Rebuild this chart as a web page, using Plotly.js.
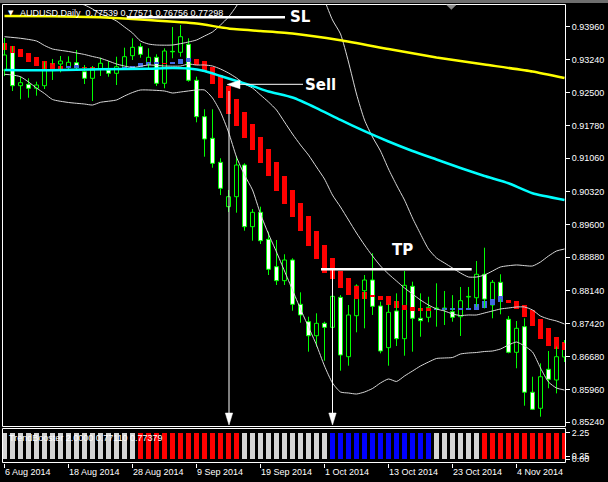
<!DOCTYPE html>
<html><head><meta charset="utf-8">
<script src="https://cdn.plot.ly/plotly-3.0.1.min.js"></script>
<style>html,body{margin:0;padding:0;background:#000;}#chart{width:608px;height:482px;}</style>
</head><body><div id="chart"></div>
<script>
const dates = ['2014-08-06','2014-08-07','2014-08-08','2014-08-11','2014-08-12','2014-08-13','2014-08-14','2014-08-15','2014-08-18','2014-08-19','2014-08-20','2014-08-21','2014-08-22','2014-08-25','2014-08-26','2014-08-27','2014-08-28','2014-08-29',
'2014-09-01','2014-09-02','2014-09-03','2014-09-04','2014-09-05','2014-09-08','2014-09-09','2014-09-10','2014-09-11','2014-09-12','2014-09-15','2014-09-16','2014-09-17','2014-09-18','2014-09-19','2014-09-22','2014-09-23','2014-09-24','2014-09-25','2014-09-26','2014-09-29','2014-09-30',
'2014-10-01','2014-10-02','2014-10-03','2014-10-06','2014-10-07','2014-10-08','2014-10-09','2014-10-10','2014-10-13','2014-10-14','2014-10-15','2014-10-16','2014-10-17','2014-10-20','2014-10-21','2014-10-22','2014-10-23','2014-10-24','2014-10-27','2014-10-28','2014-10-29','2014-10-30','2014-10-31',
'2014-11-03','2014-11-04','2014-11-05','2014-11-06','2014-11-07','2014-11-10','2014-11-11','2014-11-12'];

const open  = [0.93006,0.93396,0.92660,0.92691,0.92603,0.92660,0.93006,0.93138,0.93057,0.93167,0.92969,0.92823,0.93028,0.93006,0.92933,0.93043,0.93321,0.93520,0.93154,0.93286,0.92713,0.93418,0.93396,0.93573,0.92779,0.91977,0.91500,0.90971,0.89993,0.90213,0.90912,0.89552,0.89869,0.89274,0.88670,0.88362,0.88818,0.87841,0.87458,0.87149,0.87422,0.87334,0.87995,0.86686,0.87590,0.88140,0.88377,0.87804,0.86885,0.87694,0.87083,0.88238,0.87533,0.87555,0.87747,0.87760,0.87678,0.87568,0.88002,0.87986,0.88503,0.87826,0.88326,0.87511,0.86783,0.87348,0.85903,0.85549,0.86409,0.86173,0.86680];
const high  = [0.93711,0.93535,0.92858,0.92823,0.92748,0.93189,0.93249,0.93315,0.93308,0.93447,0.93116,0.93094,0.93277,0.93204,0.93299,0.93498,0.93705,0.93595,0.93484,0.93352,0.93484,0.93954,0.93998,0.93705,0.92858,0.92140,0.92140,0.91060,0.90361,0.91110,0.90949,0.89942,0.89993,0.89442,0.89259,0.88944,0.88855,0.88105,0.87568,0.87643,0.87458,0.88112,0.88044,0.87826,0.88282,0.88487,0.88966,0.87899,0.87841,0.88083,0.88575,0.88340,0.88083,0.88008,0.88304,0.88135,0.88044,0.88223,0.88223,0.88796,0.89089,0.88377,0.88503,0.87583,0.87473,0.87533,0.86245,0.86540,0.86812,0.86907,0.87054];
const low   = [0.92874,0.92543,0.92360,0.92395,0.92440,0.92587,0.92786,0.92955,0.92984,0.93006,0.92697,0.92323,0.92874,0.92858,0.92675,0.93006,0.93226,0.93277,0.93006,0.92653,0.92603,0.93264,0.93299,0.92748,0.91853,0.91095,0.90852,0.90249,0.89876,0.89861,0.89464,0.89243,0.89171,0.88487,0.88267,0.88267,0.87700,0.87436,0.86797,0.86907,0.86598,0.87231,0.86378,0.86488,0.87224,0.87312,0.87606,0.86761,0.86488,0.86922,0.86708,0.86797,0.87127,0.87445,0.87348,0.87385,0.87458,0.87143,0.87753,0.87788,0.87753,0.87533,0.87621,0.86761,0.86431,0.85606,0.85511,0.85364,0.85990,0.85878,0.86569];
const close = [0.93337,0.92660,0.92726,0.92603,0.92675,0.93006,0.93132,0.93204,0.93176,0.93057,0.92823,0.93006,0.93154,0.92933,0.93079,0.93299,0.93506,0.93352,0.93286,0.92713,0.93425,0.93407,0.93740,0.92779,0.91977,0.91485,0.90949,0.90398,0.90213,0.90912,0.89552,0.89869,0.89243,0.88613,0.88362,0.88818,0.87841,0.87606,0.87149,0.87422,0.87334,0.88017,0.86724,0.87606,0.88245,0.88377,0.87797,0.86812,0.87665,0.87083,0.88260,0.87533,0.87480,0.87775,0.87760,0.87747,0.87555,0.87921,0.88015,0.88503,0.87957,0.88326,0.87957,0.86783,0.87312,0.85903,0.85527,0.86245,0.86188,0.86686,0.86988];

const haOpen  = [0.93601,0.93535,0.93469,0.93387,0.93299,0.93204,0.93154,0.93094,0.93057,0.93061,0.93079,0.93079,0.93050,0.93050,0.93050,0.93028,0.93039,0.93072,0.93110,0.93149,0.93167,0.93149,0.93149,0.93189,0.93244,0.93204,0.93079,0.92896,0.92660,0.92367,0.92087,0.91816,0.91536,0.91265,0.90978,0.90669,0.90361,0.90081,0.89788,0.89464,0.89149,0.88862,0.88575,0.88414,0.88245,0.88118,0.88044,0.88024,0.88017,0.87914,0.87826,0.87777,0.87760,0.87753,0.87705,0.87705,0.87705,0.87722,0.87716,0.87720,0.87760,0.87826,0.87888,0.87936,0.87914,0.87826,0.87716,0.87511,0.87319,0.87127,0.87004];
const haClose = [0.93447,0.93387,0.93299,0.93189,0.93101,0.93021,0.93021,0.93035,0.93105,0.93116,0.93043,0.93006,0.93006,0.93006,0.93021,0.93072,0.93101,0.93160,0.93189,0.93189,0.93138,0.93189,0.93249,0.93271,0.93127,0.92951,0.92704,0.92389,0.92036,0.91772,0.91514,0.91243,0.90963,0.90676,0.90339,0.90059,0.89772,0.89464,0.89126,0.88833,0.88538,0.88393,0.88207,0.88055,0.87957,0.87957,0.88002,0.87936,0.87815,0.87749,0.87720,0.87698,0.87698,0.87700,0.87738,0.87753,0.87749,0.87753,0.87760,0.87848,0.87914,0.87957,0.88024,0.87877,0.87738,0.87561,0.87363,0.87070,0.86933,0.86852,0.86834];

// TrendBooster state per bar: n = neutral, d = down, u = up
const boosterState = ['n','n','n','n','n','n','n','n','n','n','n','n','n','n','n','n','n',
'd','d','d','d','d','d','d','d','d','d','d','d','d',
'n','n','n','n','n','n','n','n','n','n','n',
'u','u','u','u','u','u','u','u','u','u','u','u','u',
'n','n','n','n','n','n',
'd','d','d','d','d','d','d','d','d','d','d'];
const boosterLevel = 2.25;

const yellowMABar = [0,6,12,18,24,28,32,36,42,48,54,60,66,70];
const yellowMA    = [0.94196,0.94190,0.94168,0.94108,0.94031,0.93921,0.93866,0.93811,0.93661,0.93469,0.93282,0.93127,0.92973,0.92830];
const cyanMABar = [0,6,12,18,21,23,25,27,29,31,33,36,39,42,45,48,51,54,57,60,63,66,70];
const cyanMA    = [0.93006,0.92999,0.93021,0.93035,0.93050,0.93039,0.92984,0.92874,0.92764,0.92653,0.92532,0.92400,0.92168,0.91904,0.91661,0.91430,0.91221,0.91033,0.90846,0.90669,0.90509,0.90288,0.90140];

const bbUpperBar = [0,2,4,6,8,10,11,12,13,14,15,16,17,18,19,21,23,24,25,26,27,28,29,30,32,35,38,40,41,42,43,44,45,46,47,48,49,50,51,52,53,54,55,56,57,58,59,60,61,62,64,66,67,68,69,70];
const bbUpper    = [0.94571,0.94549,0.94659,0.94593,0.94527,0.94439,0.94351,0.94240,0.94174,0.94086,0.93954,0.93822,0.93645,0.93579,0.93557,0.93557,0.93623,0.93667,0.93755,0.93844,0.93998,0.94174,0.94417,0.94725,0.95321,0.95872,0.95541,0.94549,0.94108,0.93800,0.93182,0.92477,0.91904,0.91529,0.91221,0.90824,0.90471,0.90140,0.89744,0.89391,0.89060,0.88862,0.88752,0.88642,0.88531,0.88443,0.88443,0.88487,0.88575,0.88664,0.88708,0.88686,0.88774,0.88906,0.89016,0.89060];
const bbMidBar = [0,2,4,5,6,8,10,11,12,13,14,16,18,20,22,23,24,25,26,27,28,29,30,31,32,33,34,35,36,37,38,39,40,41,42,43,44,45,46,47,48,49,50,51,52,53,54,55,56,57,58,59,60,61,62,63,64,65,66,67,68,69,70];
const bbMid    = [0.93740,0.93705,0.93645,0.93546,0.93469,0.93414,0.93348,0.93304,0.93264,0.93204,0.93138,0.93061,0.93116,0.93094,0.93094,0.93138,0.93116,0.93116,0.93094,0.93028,0.92940,0.92830,0.92697,0.92609,0.92455,0.92301,0.92124,0.91860,0.91595,0.91353,0.91132,0.90868,0.90603,0.90249,0.89986,0.89700,0.89413,0.89149,0.88906,0.88686,0.88509,0.88355,0.88201,0.88068,0.87936,0.87826,0.87738,0.87694,0.87628,0.87594,0.87606,0.87606,0.87650,0.87694,0.87738,0.87760,0.87782,0.87782,0.87716,0.87583,0.87517,0.87473,0.87407];
const bbLowerBar = [0,1,2,3,4,5,6,8,10,11,12,14,15,16,17,20,21,22,24,25,26,27,28,29,30,31,32,33,34,35,36,37,38,39,40,41,42,43,44,45,46,47,48,49,50,51,52,53,54,55,56,57,58,59,60,61,62,63,64,65,66,67,68,69,70];
const bbLower    = [0.92911,0.92896,0.92858,0.92742,0.92609,0.92488,0.92356,0.92290,0.92256,0.92234,0.92294,0.92345,0.92433,0.92510,0.92565,0.92543,0.92499,0.92521,0.92565,0.92565,0.92389,0.92080,0.91639,0.91088,0.90692,0.90361,0.89832,0.89391,0.88994,0.88575,0.88157,0.87738,0.87341,0.86944,0.86481,0.86107,0.85908,0.85886,0.85864,0.85908,0.85985,0.86107,0.86195,0.86140,0.86261,0.86371,0.86481,0.86569,0.86647,0.86658,0.86669,0.86746,0.86768,0.86779,0.86801,0.86812,0.86856,0.86944,0.87010,0.86922,0.86790,0.86437,0.86129,0.85996,0.85952];

const priceTicks = [0.93960,0.93240,0.92500,0.91780,0.91060,0.90320,0.89600,0.88880,0.88140,0.87420,0.86680,0.85960,0.85240];
const dateTickBars = [0,8,16,24,32,40,48,56,64];
const dateTickLabels = ['6 Aug 2014','18 Aug 2014','28 Aug 2014','9 Sep 2014','19 Sep 2014','1 Oct 2014','13 Oct 2014','23 Oct 2014','4 Nov 2014'];
const boosterTicks = [0, 0.25, 2.25];
const boosterTickText = ['0.00','0.25','2.25'];

// ---------- build traces ----------
const idx = dates.map((d, i) => i);
const bodyBase = idx.map(i => Math.min(open[i], close[i]));
const bodyLen  = idx.map(i => Math.max(Math.abs(close[i] - open[i]), 0.00003));
const bodyFill = idx.map(i => close[i] >= open[i] ? '#000000' : '#ffffff');
const wx = [], wy = [];
idx.forEach(i => {
  const top = Math.max(open[i], close[i]), bot = Math.min(open[i], close[i]);
  wx.push(i, i, null, i, i, null);
  wy.push(high[i], top, null, bot, low[i], null);
});
const haBase = idx.map(i => Math.min(haOpen[i], haClose[i]));
const haLen  = idx.map(i => Math.max(Math.abs(haClose[i] - haOpen[i]), 0.00004));
const haCol  = idx.map(i => haClose[i] < haOpen[i] ? '#ff0000' : '#4169e1');
const boosterColMap = {n: '#d4d4d4', d: '#ff0000', u: '#0000ff'};

const pick = (bars) => bars.map(b => b);
const traces = [
  {type:'bar', x: idx, base: bodyBase, y: bodyLen, width: 0.5,
   marker: {color: bodyFill, line: {color: '#00ff00', width: 1}}, hoverinfo: 'skip'},
  {type:'bar', x: idx, base: haBase, y: haLen, width: 0.625,
   marker: {color: haCol, line: {width: 0}}, hoverinfo: 'skip'},
  {type:'scatter', mode:'lines', x: wx, y: wy, line: {color: '#00ff00', width: 1}, connectgaps: false, hoverinfo: 'skip'},
  {type:'scatter', mode:'lines', x: bbUpperBar, y: bbUpper, line: {color: '#d8d8d8', width: 1, shape: 'spline', smoothing: 0.6}, hoverinfo: 'skip'},
  {type:'scatter', mode:'lines', x: bbMidBar, y: bbMid, line: {color: '#d8d8d8', width: 1, shape: 'spline', smoothing: 0.6}, hoverinfo: 'skip'},
  {type:'scatter', mode:'lines', x: bbLowerBar, y: bbLower, line: {color: '#d8d8d8', width: 1, shape: 'spline', smoothing: 0.6}, hoverinfo: 'skip'},
  {type:'scatter', mode:'lines', x: yellowMABar, y: yellowMA, line: {color: '#ffff00', width: 2.5, shape: 'spline', smoothing: 0.5}, hoverinfo: 'skip'},
  {type:'scatter', mode:'lines', x: cyanMABar, y: cyanMA, line: {color: '#00ffff', width: 2.5, shape: 'spline', smoothing: 0.5}, hoverinfo: 'skip'},
  {type:'bar', x: idx, y: boosterState.map(() => boosterLevel), yaxis: 'y2', width: 0.625,
   marker: {color: boosterState.map(s => boosterColMap[s]), line: {width: 0}}, hoverinfo: 'skip'}
];

// ---------- layout ----------
const W = 608, H = 482;
const px = x => x / W, py = y => 1 - y / H;
const tri = (pts) => 'M ' + pts.map(p => px(p[0]) + ',' + py(p[1])).join(' L ') + ' Z';
const pline = (x0, y0, x1, y1, w) => ({type:'line', xref:'paper', yref:'paper', x0: px(x0), y0: py(y0), x1: px(x1), y1: py(y1), line: {color:'#ffffff', width: w}});
const ppath = (pts, col) => ({type:'path', xref:'paper', yref:'paper', path: tri(pts), fillcolor: col, line: {color: col, width: 0.5}});

const smallFont = {family: 'Liberation Sans, Arial, sans-serif', size: 9, color: '#ffffff'};
const bigFont = {family: 'DejaVu Sans, Verdana, sans-serif', size: 15, color: '#ffffff', weight: 'bold'};

const layout = {
  width: W, height: H,
  margin: {l: 0, r: 0, t: 0, b: 0, pad: 0},
  paper_bgcolor: '#000000', plot_bgcolor: '#000000',
  showlegend: false, barmode: 'overlay', bargap: 0,
  font: smallFont,
  xaxis: {domain: [px(3), px(565)], range: [-0.1875, 70.0625], anchor: 'y2',
    tickmode: 'array', tickvals: dateTickBars, ticktext: dateTickLabels,
    ticks: 'outside', ticklen: 4, tickcolor: '#ffffff', tickwidth: 1,
    ticklabelposition: 'outside right', tickfont: smallFont,
    showgrid: false, zeroline: false, showline: false, fixedrange: true},
  yaxis: {domain: [py(426), py(4.5)], range: [0.851587, 0.944498], side: 'right', anchor: 'x',
    tickmode: 'array', tickvals: priceTicks, ticktext: priceTicks.map(v => v.toFixed(5)),
    ticks: 'outside', ticklen: 4, tickcolor: '#ffffff', tickfont: smallFont,
    showgrid: false, zeroline: false, showline: false, fixedrange: true},
  yaxis2: {domain: [py(462.7), py(428.7)], range: [-0.316, 2.59], side: 'right', anchor: 'x',
    tickmode: 'array', tickvals: boosterTicks, ticktext: boosterTickText,
    ticks: 'outside', ticklen: 4, tickcolor: '#ffffff', tickfont: smallFont,
    showgrid: false, zeroline: false, showline: false, fixedrange: true},
  shapes: [
    {type:'rect', xref:'paper', yref:'paper', x0: 0, x1: 1, y0: py(3), y1: 1, fillcolor: '#6e6e6e', line: {width: 0}},
    {type:'rect', xref:'paper', yref:'paper', x0: px(2.5), x1: px(565.5), y0: py(426.5), y1: py(4.5), line: {color: '#ffffff', width: 1}},
    {type:'rect', xref:'paper', yref:'paper', x0: px(2.5), x1: px(565.5), y0: py(462.5), y1: py(428.5), line: {color: '#ffffff', width: 1}},
    // chart shift marker
    ppath([[446.7, 5], [456, 5], [451.3, 9.5]], '#8a8a8a'),
    // SL and TP levels
    pline(126.7, 17.2, 285, 17.2, 2.5),
    pline(321, 269.3, 471.7, 269.3, 2.5),
    // Sell arrow
    pline(239, 84.3, 303, 84.3, 1),
    ppath([[227, 84.5], [240, 80.3], [240, 88.7]], '#ffffff'),
    // vertical arrows
    pline(229, 91, 229, 414, 1),
    ppath([[229, 425], [225.3, 413], [232.7, 413]], '#ffffff'),
    pline(332.5, 270, 332.5, 414, 1),
    ppath([[332.5, 425], [328.8, 413], [336.2, 413]], '#ffffff')
  ],
  annotations: [
    {xref:'paper', yref:'paper', x: px(10.5), y: py(13), text: '▼', showarrow: false, xanchor: 'center', yanchor: 'middle', font: {family: 'DejaVu Sans', size: 7, color: '#ffffff'}},
    {xref:'paper', yref:'paper', x: px(18), y: py(13), text: 'AUDUSD,Daily  0.77539 0.77571 0.76756 0.77298', showarrow: false, xanchor: 'left', yanchor: 'middle', font: smallFont},
    {xref:'paper', yref:'paper', x: px(300), y: py(17.5), text: 'SL', showarrow: false, xanchor: 'center', yanchor: 'middle', font: bigFont},
    {xref:'paper', yref:'paper', x: px(320.5), y: py(84.5), text: 'Sell', showarrow: false, xanchor: 'center', yanchor: 'middle', font: bigFont},
    {xref:'paper', yref:'paper', x: px(402), y: py(250), text: 'TP', showarrow: false, xanchor: 'center', yanchor: 'middle', font: bigFont},
    {xref:'paper', yref:'paper', x: px(7), y: py(437.7), text: 'TrendBooster 2.0000 0.77110 0.77379', showarrow: false, xanchor: 'left', yanchor: 'middle', font: smallFont}
  ]
};

Plotly.newPlot('chart', traces, layout, {staticPlot: true, displayModeBar: false});
</script>
</body></html>
